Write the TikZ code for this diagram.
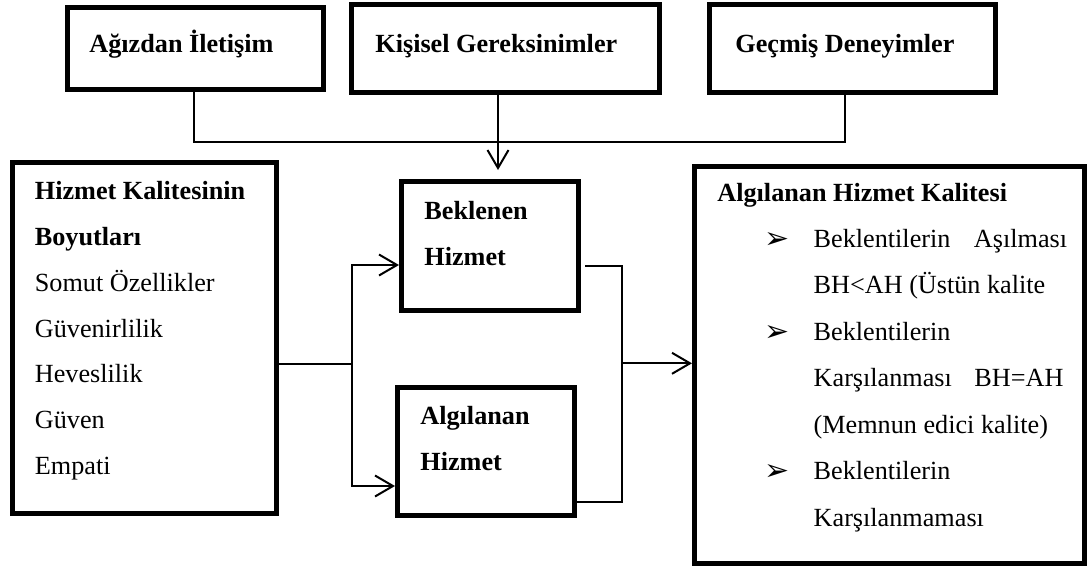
\documentclass[tikz,border=0pt]{standalone}
\usepackage{fontspec}
\setmainfont{Liberation Serif}
\newfontfamily\symfont{DejaVu Sans}
\usetikzlibrary{arrows.meta}
\newlength\pxl
\setlength\pxl{0.5pt}
\begin{document}
\begin{tikzpicture}[x=0.5pt,y=-0.5pt,
  box/.style={draw, line width=2.4pt, inner sep=0pt, rectangle},
  conn/.style={line width=1pt},
  arr/.style={conn, -{Straight Barb[length=9pt,width=10.5pt]}},
  lbl/.style={anchor=base west, inner sep=0pt, font=\fontsize{13.1pt}{16pt}\selectfont},
  hd/.style={anchor=base west, inner sep=0pt, font=\fontsize{13.1pt}{16pt}\selectfont\bfseries},
  blt/.style={anchor=base west, inner sep=0pt, font=\symfont\fontsize{15pt}{18pt}\selectfont}]
\fill[white] (0,0) rectangle (1088,568);
\useasboundingbox (0,0) rectangle (1088,568);

% top row of boxes
\node[box, minimum width=256.2\pxl, minimum height=82.2\pxl] (word) at (195.5,48.5) {};
\node[box, minimum width=308.2\pxl, minimum height=88.2\pxl] (need) at (505.5,48.5) {};
\node[box, minimum width=286.2\pxl, minimum height=88.2\pxl] (past) at (852.5,48.5) {};
\node[hd] (tword) at (89,52) {Ağızdan İletişim};
\node[hd] (tneed) at (375,52) {Kişisel Gereksinimler};
\node[hd] (tpast) at (735,52) {Geçmiş Deneyimler};

% dimensions box
\node[box, minimum width=264.2\pxl, minimum height=351.2\pxl] (dim) at (144.5,338) {};
\node[hd]  (d1) at (34.5,199.5) {Hizmet Kalitesinin};
\node[hd]  (d2) at (34.5,245.5) {Boyutları};
\node[lbl] (d3) at (34.5,291.5) {Somut Özellikler};
\node[lbl] (d4) at (34.5,337)   {Güvenirlilik};
\node[lbl] (d5) at (34.5,382.5) {Heveslilik};
\node[lbl] (d6) at (34.5,428.5) {Güven};
\node[lbl] (d7) at (34.5,474.5) {Empati};

% expected and perceived service
\node[box, minimum width=177.2\pxl, minimum height=129.2\pxl] (exp) at (490,246) {};
\node[hd] (e1) at (424,219)   {Beklenen};
\node[hd] (e2) at (424,265.7) {Hizmet};
\node[box, minimum width=177.2\pxl, minimum height=128.2\pxl] (per) at (486,451.5) {};
\node[hd] (p1) at (420,424)   {Algılanan};
\node[hd] (p2) at (420,470.7) {Hizmet};

% perceived service quality
\node[box, minimum width=390.2\pxl, minimum height=397.2\pxl] (qual) at (889.5,365) {};
\node[hd]  (q0) at (717,201.5) {Algılanan Hizmet Kalitesi};
\node[blt] (b1) at (764,248)   {➢};
\node[lbl] (q1) at (813.3,247) {\makebox[126.7pt][s]{Beklentilerin Aşılması}};
\node[lbl] (q2) at (813.3,293.5) {BH<AH (Üstün kalite};
\node[blt] (b2) at (764,341)   {➢};
\node[lbl] (q3) at (813.3,340) {Beklentilerin};
\node[lbl] (q4) at (813.3,386.5) {\makebox[124.9pt][s]{Karşılanması BH=AH}};
\node[lbl] (q5) at (813.3,433) {(Memnun edici kalite)};
\node[blt] (b3) at (764,480.5) {➢};
\node[lbl] (q6) at (813.3,479.5) {Beklentilerin};
\node[lbl] (q7) at (813.3,526) {Karşılanmaması};

% top connectors
\coordinate (h1) at (194,141.7);
\coordinate (h2) at (498,141.7);
\coordinate (h3) at (845,141.7);
\draw[conn] (word.south -| h1) -- (h1) -- (h3) -- (past.south -| h3);
\draw[arr, shorten >=4.5pt] (need.south -| h2) -- (exp.north -| h2);

% left fork
\coordinate (fork) at (352,364);
\coordinate (fa) at (352,265);
\coordinate (fb) at (352,486);
\draw[conn] (dim.east |- fork) -- (fork);
\draw[arr] (fork) -- (fa) -- (exp.west |- fa);
\draw[arr] (fork) -- (fb) -- (per.west |- fb);

% right join
\coordinate (r1) at (622,265.7);
\coordinate (r2) at (622,502);
\coordinate (rm) at (622,363.3);
\draw[conn, shorten <=2pt] (exp.east |- r1) -- (r1) -- (r2) -- (per.east |- r2);
\draw[arr] (rm) -- (qual.west |- rm);
\end{tikzpicture}
\end{document}
